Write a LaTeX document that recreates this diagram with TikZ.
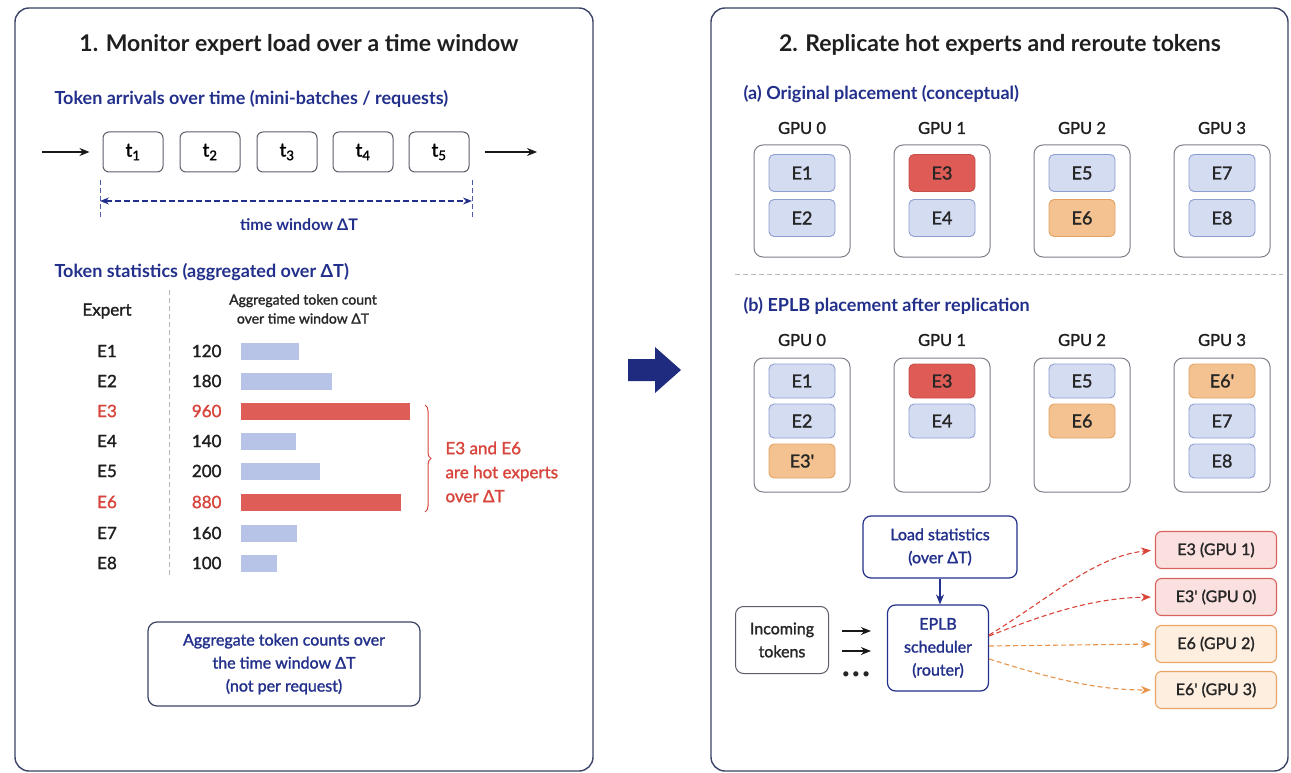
\documentclass[tikz,border=0pt]{standalone}
\usepackage{fontspec}
\setmainfont{Lato}
\newfontfamily\medfont{Lato}[FakeBold=1.5]
\usetikzlibrary{arrows.meta,decorations.pathreplacing,calc}

\definecolor{navy}{HTML}{22308C}
\definecolor{panelline}{HTML}{3A4466}
\definecolor{expfill}{HTML}{D4DCF2}
\definecolor{expdraw}{HTML}{8E9ED0}
\definecolor{hotfill}{HTML}{DF5C56}
\definecolor{hotdraw}{HTML}{C8504A}
\definecolor{warmfill}{HTML}{F3C290}
\definecolor{warmdraw}{HTML}{E0A363}
\definecolor{barblue}{HTML}{B8C3E8}
\definecolor{barred}{HTML}{DE5E57}
\definecolor{redtext}{HTML}{D8453C}
\definecolor{boxgray}{HTML}{5A5F6A}
\definecolor{redlight}{HTML}{FAE1E0}
\definecolor{redline}{HTML}{DA625C}
\definecolor{orlight}{HTML}{FDEEDF}
\definecolor{orline}{HTML}{E8A565}
\definecolor{redarrow}{HTML}{D9443B}
\definecolor{orarrow}{HTML}{E8944A}

\newcommand\setfs[2]{\fontsize{#1}{#2}\selectfont}

\tikzset{
  panel/.style={draw=panelline, line width=1.4pt, rounded corners=14pt},
  headline/.style={font=\setfs{23}{27}\bfseries, text=black!88},
  subhead/.style={font=\setfs{18}{21}\bfseries, text=navy, anchor=west},
  tbox/.style={draw=boxgray, line width=1pt, rounded corners=6pt,
    minimum width=60pt, minimum height=40pt, font=\medfont\setfs{19}{21}},
  flow/.style={-{Stealth[length=10pt,width=8pt]}, line width=1.4pt, black!90},
  lbl/.style={font=\medfont\setfs{17}{19}, text=black!88},
  hotlbl/.style={font=\medfont\setfs{17}{19}, text=redtext},
  gpubox/.style={draw=boxgray!80, line width=1pt, rounded corners=9pt,
    minimum width=96pt},
  gpulbl/.style={font=\medfont\setfs{16.5}{19}, text=black!88},
  expert/.style={draw=expdraw, fill=expfill, line width=0.9pt, rounded corners=5pt,
    minimum width=66pt, font=\medfont\setfs{18}{20}, text=black!85},
  hotexp/.style={expert, draw=hotdraw, fill=hotfill},
  warmexp/.style={expert, draw=warmdraw, fill=warmfill},
  bluebox/.style={draw=navy, line width=1.2pt, rounded corners=8pt, text=navy,
    font=\medfont\setfs{16}{23}, align=center},
  target/.style={line width=1.1pt, rounded corners=6pt, minimum width=121pt,
    minimum height=37pt, font=\medfont\setfs{16}{18}, text=black!85},
  redtgt/.style={target, draw=redline, fill=redlight},
  ortgt/.style={target, draw=orline, fill=orlight},
  reddash/.style={redarrow, dash pattern=on 5pt off 3pt, line width=1.1pt,
    -{Stealth[length=10pt,width=8pt]}},
  ordash/.style={orarrow, dash pattern=on 5pt off 3pt, line width=1.1pt,
    -{Stealth[length=10pt,width=8pt]}},
}

\begin{document}
\begin{tikzpicture}[x=1pt, y=-1pt]
\useasboundingbox (0,0) rectangle (1291,773);
\fill[white] (0,0) rectangle (1291,773);

% ---------- left panel: monitoring ----------
\draw[panel] (15,8) rectangle (593,771);
\node[headline] (title1) at (299,45) {1. Monitor expert load over a time window};
\node[subhead] (arrivals) at (51,99) {Token arrivals over time (mini-batches / requests)};

\foreach \k/\x in {1/133,2/210,3/287,4/363,5/439}
  \node[tbox] (t\k) at (\x,152) {t\textsubscript{\k}};
\coordinate (inL) at (42,152);
\coordinate (outR) at (537,152);
\draw[flow, shorten >=13pt] (inL) -- (t1);
\draw[flow, shorten <=15pt] (t5) -- (outR);

% time window marker
\coordinate (wl) at (100,180);
\coordinate (wr) at (472,180);
\draw[navy!80, dash pattern=on 5pt off 3pt, line width=0.9pt] (wl) -- ++(0,38);
\draw[navy!80, dash pattern=on 5pt off 3pt, line width=0.9pt] (wr) -- ++(0,38);
\draw[navy, dash pattern=on 6pt off 3pt, line width=1.2pt,
  {Stealth[length=9pt,width=7pt]}-{Stealth[length=9pt,width=7pt]}]
  ($(wl)+(0,21)$) -- ($(wr)+(0,21)$);
\node[font=\setfs{16}{19}\bfseries, text=navy] (twin) at (299,225) {time window ΔT};

% token statistics table
\node[subhead] (stats) at (51,272) {Token statistics (aggregated over ΔT)};
\node[lbl] (exphead) at (107,311) {Expert};
\node[font=\medfont\setfs{14}{19}, align=center, text=black!85] (cnthead) at (303,309)
  {Aggregated token count\\over time window ΔT};
\draw[gray!60, dash pattern=on 5pt off 3pt, line width=0.9pt] (169,290) -- (169,576);

\foreach \i/\y/\n/\len/\hot in {1/351/120/58/0, 2/381/180/91/0, 3/411/960/169/1,
    4/441/140/55/0, 5/471/200/79/0, 6/502/880/160/1, 7/533/160/56/0, 8/563/100/36/0}{
  \ifnum\hot=1
    \node[hotlbl] (name\i) at (107,\y) {E\i};
    \node[hotlbl, anchor=east] (cnt\i) at (225,\y) {\n};
    \fill[barred] (241,\y-8.5) rectangle ++(\len,17);
  \else
    \node[lbl] (name\i) at (107,\y) {E\i};
    \node[lbl, anchor=east] (cnt\i) at (225,\y) {\n};
    \fill[barblue] (241,\y-8.5) rectangle ++(\len,17);
  \fi
}
\draw[redtext, line width=1pt, decorate, decoration={brace, amplitude=6pt}]
  (425,405) -- (425,512);
\node[font=\medfont\setfs{17}{24}, text=redtext, align=left, anchor=west] (hotnote) at (442,472)
  {E3 and E6\\are hot experts\\over ΔT};

\node[draw=panelline, line width=1.2pt, rounded corners=9pt, text=navy,
  font=\medfont\setfs{16}{23}, align=center, minimum width=272pt, minimum height=84pt]
  (aggnote) at (284,664) {Aggregate token counts over\\the time window ΔT\\(not per request)};

% ---------- transition arrow ----------
\fill[navy!90!black] (628,359) -- (655,359) -- (655,347) -- (681,370) -- (655,393)
  -- (655,381) -- (628,381) -- cycle;

% ---------- right panel: replication ----------
\draw[panel] (711,8) rectangle (1288,771);
\node[headline] (title2) at (1000,45) {2. Replicate hot experts and reroute tokens};

\node[subhead] (origh) at (740,94) {(a) Original placement (conceptual)};
\foreach \g/\x in {0/802,1/942,2/1082,3/1222}{
  \node[gpulbl] (ga\g) at (\x,128) {GPU \g};
  \node[gpubox, minimum height=112pt] (gpua\g) at (\x,201) {};
}
\node[expert, minimum height=37pt] (a1) at (802,173) {E1};
\node[expert, minimum height=37pt] (a2) at (802,218) {E2};
\node[hotexp, minimum height=37pt] (a3) at (942,173) {E3};
\node[expert, minimum height=37pt] (a4) at (942,218) {E4};
\node[expert, minimum height=37pt] (a5) at (1082,173) {E5};
\node[warmexp, minimum height=37pt] (a6) at (1082,218) {E6};
\node[expert, minimum height=37pt] (a7) at (1222,173) {E7};
\node[expert, minimum height=37pt] (a8) at (1222,218) {E8};

\draw[gray!55, dash pattern=on 5pt off 3pt, line width=1pt] (735,274) -- (1283,274);

\node[subhead] (eplbh) at (740,306) {(b) EPLB placement after replication};
\foreach \g/\x in {0/802,1/942,2/1082,3/1222}{
  \node[gpulbl] (gb\g) at (\x,340) {GPU \g};
  \node[gpubox, minimum height=134pt] (gpub\g) at (\x,425) {};
}
\node[expert, minimum height=34pt] (b1) at (802,381) {E1};
\node[expert, minimum height=34pt] (b2) at (802,421) {E2};
\node[warmexp, minimum height=34pt] (b3r) at (802,461) {E3'};
\node[hotexp, minimum height=34pt] (b3) at (942,381) {E3};
\node[expert, minimum height=34pt] (b4) at (942,421) {E4};
\node[expert, minimum height=34pt] (b5) at (1082,381) {E5};
\node[warmexp, minimum height=34pt] (b6) at (1082,421) {E6};
\node[warmexp, minimum height=34pt] (b6r) at (1222,381) {E6'};
\node[expert, minimum height=34pt] (b7) at (1222,421) {E7};
\node[expert, minimum height=34pt] (b8) at (1222,461) {E8};

% routing
\node[bluebox, minimum width=154pt, minimum height=62pt] (load) at (940,547)
  {Load statistics\\(over ΔT)};
\node[bluebox, minimum width=101pt, minimum height=86pt] (sched) at (938,648)
  {EPLB\\scheduler\\(router)};
\node[draw=boxgray, line width=1pt, rounded corners=8pt, font=\medfont\setfs{16}{23},
  align=center, text=black!85, minimum width=93pt, minimum height=67pt]
  (inc) at (782,640) {Incoming\\tokens};
\node[font=\setfs{14}{16}, text=black!85] (dots) at (856,675)
  {\textbullet\hspace{2pt}\textbullet\hspace{2pt}\textbullet};

\draw[navy, line width=1.4pt, -{Stealth[length=10pt,width=8pt]}]
  (load.south) -- (load.south |- sched.north);
\draw[flow] ([xshift=13pt,yshift=9pt]inc.east) -- ([xshift=-16pt,yshift=9pt]inc.east -| sched.west);
\draw[flow] ([xshift=13pt,yshift=-11pt]inc.east) -- ([xshift=-16pt,yshift=-11pt]inc.east -| sched.west);

\node[redtgt] (r1) at (1216,550) {E3 (GPU 1)};
\node[redtgt] (r2) at (1216,597) {E3' (GPU 0)};
\node[ortgt] (r3) at (1216,644) {E6 (GPU 2)};
\node[ortgt] (r4) at (1216,690) {E6' (GPU 3)};

\draw[reddash, shorten >=4pt] ([yshift=13pt]sched.east) .. controls (1050,598) and (1095,556) .. (r1.west);
\draw[reddash, shorten >=4pt] ([yshift=12pt]sched.east) .. controls (1050,612) and (1095,598) .. (r2.west);
\draw[ordash, shorten >=4pt] ([yshift=2pt]sched.east) -- (r3.west);
\draw[ordash, shorten >=4pt] ([yshift=-11pt]sched.east) .. controls (1050,678) and (1095,690) .. (r4.west);
\end{tikzpicture}
\end{document}
